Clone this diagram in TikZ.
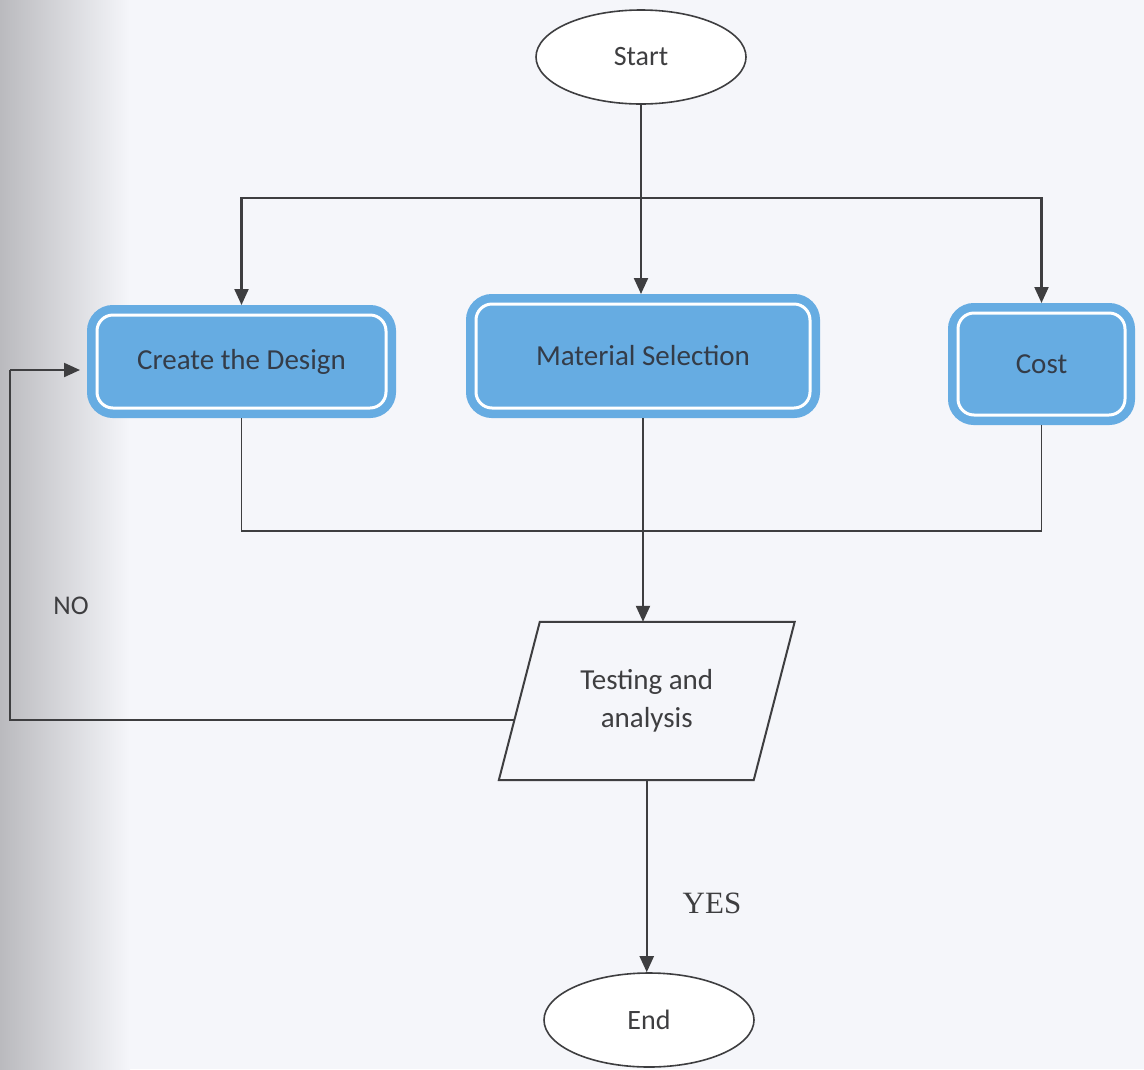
\documentclass[tikz,border=0pt]{standalone}
\usepackage{fontspec}
\setmainfont{Carlito}
\newfontfamily\yesfont{Liberation Serif}
\usetikzlibrary{arrows.meta,shapes.geometric,calc}
\definecolor{boxblue}{RGB}{102,172,226}
\definecolor{ink}{RGB}{62,62,64}
\definecolor{boxtext}{RGB}{52,60,72}
\definecolor{bgcol}{RGB}{245,246,250}
\definecolor{scangray}{RGB}{186,186,190}
\begin{document}
\begin{tikzpicture}[x=1pt,y=-1pt,
  bluebox/.style={rounded corners=16pt, fill=boxblue, draw=white, line width=3pt,
    preaction={draw=boxblue, line width=20pt}, inner sep=0pt, outer sep=10pt,
    text=boxtext, font=\fontsize{29}{34}\selectfont},
  terminal/.style={ellipse, draw=ink, line width=1.6pt, fill=white, inner sep=0pt,
    minimum width=210pt, minimum height=94pt, text=ink, font=\fontsize{28}{33}\selectfont},
  arr/.style={draw=ink, line width=2.2pt, -{Triangle[length=16pt,width=14pt]}},
  plain/.style={draw=ink, line width=1.6pt},
  lbl/.style={text=ink, inner sep=0pt}
]
% background (scanned page)
\fill[bgcol] (0,0) rectangle (1144,1069);
\shade[left color=scangray, right color=bgcol] (0,0) rectangle (130,1069);
\useasboundingbox (0,0) rectangle (1144,1069);

% nodes
\node[terminal] (start) at (641,57) {Start};
\node[bluebox, minimum width=289pt, minimum height=93pt] (create) at (241.5,361.5) {Create the Design};
\node[bluebox, minimum width=334pt, minimum height=104pt] (material) at (643,356) {Material Selection};
\node[bluebox, minimum width=167pt, minimum height=102pt] (cost) at (1041.5,364) {Cost};
\node[inner sep=0pt, minimum width=254.5pt, minimum height=158pt, align=center,
  text=ink, font=\fontsize{29}{38}\selectfont] (test) at (646.75,701) {Testing and\\analysis};
\draw[ink, line width=2pt]
  ($(test.north west)+(20.5,0)$) -- ($(test.north east)+(20.5,0)$) --
  ($(test.south east)+(-20.5,0)$) -- ($(test.south west)+(-20.5,0)$) -- cycle;
\node[terminal] (end) at (649,1020) {End};

\node[lbl, font=\fontsize{27}{32}\selectfont] (no) at (71,606) {NO};
\node[lbl, font=\yesfont\fontsize{31}{36}\selectfont] (yes) at (712,903) {YES};

% connectors
\coordinate (split) at (641,198);
\draw[arr] (start.south) -- (start.south |- material.north);
\draw[arr] (split) -| (create.north);
\draw[arr] (split) -| (cost.north);

\coordinate (join) at (643,531);
\draw[plain] (create.south) |- (join) -| (cost.south);
\draw[arr] (material.south) -- (material.south |- test.north);

\coordinate (nostart) at (514,720);
\coordinate (lc) at (10,720);
\coordinate (cin) at (80,370);
\draw[plain] (nostart) -- (lc) -- (lc |- cin);
\draw[arr] (lc |- cin) -- (cin);

\draw[arr] (test.south) -- (test.south |- end.north);
\end{tikzpicture}
\end{document}
